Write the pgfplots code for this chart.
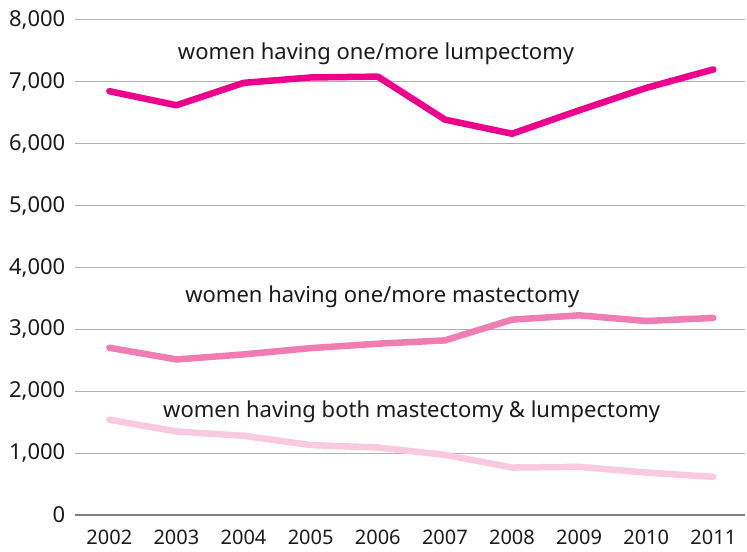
\documentclass[border=0pt]{standalone}
\usepackage{fontspec}
\setmainfont{Noto Sans}
\usepackage{pgfplots}
\pgfplotsset{compat=1.18}
\usetikzlibrary{calc}
\definecolor{lump}{HTML}{EC008C}
\definecolor{mast}{HTML}{F07DB1}
\definecolor{both}{HTML}{F9CADF}
\definecolor{gridc}{HTML}{B0B0B0}
\definecolor{zeroc}{HTML}{808080}
\definecolor{txt}{HTML}{1A1A1A}
\begin{document}
\begin{tikzpicture}
\begin{axis}[
  name=ax, scale only axis, width=669.5bp, height=495bp,
  xmin=2001.496, xmax=2011.472, ymin=0, ymax=8000,
  axis line style={draw=none},
  major tick length=0pt,
  ymajorgrids, grid style={gridc, line width=1bp},
  xtick={2002,2003,...,2011},
  ytick={1000,2000,...,8000},
  extra y ticks={0},
  extra y tick style={grid style={zeroc, line width=1.2bp}},
  clip=false,
  /pgf/number format/assume math mode=true,
  xticklabel style={font=\fontsize{20bp}{24bp}\selectfont, text=txt, /pgf/number format/1000 sep={}, anchor=base, inner sep=0pt, yshift=-30bp},
  yticklabel style={font=\fontsize{22bp}{26bp}\selectfont, text=txt, /pgf/number format/1000 sep={,}, anchor=east, inner sep=0pt, xshift=-10bp},
  every axis plot/.append style={line width=6.5bp, line join=round, line cap=round},
]
\addplot[lump] coordinates {(2002,6849) (2003,6622) (2004,6984) (2005,7071) (2006,7085) (2007,6390) (2008,6162) (2009,6540) (2010,6903) (2011,7201)};
\addplot[mast] coordinates {(2002,2703) (2003,2514) (2004,2595) (2005,2697) (2006,2768) (2007,2822) (2008,3157) (2009,3227) (2010,3135) (2011,3185)};
\addplot[both] coordinates {(2002,1540) (2003,1350) (2004,1280) (2005,1130) (2006,1091) (2007,972) (2008,767) (2009,778) (2010,686) (2011,616)};
\node[font=\fontsize{22bp}{26bp}\selectfont, text=txt, anchor=base west, inner sep=0pt] at (axis cs:2003.02,7355) {women having one/more lumpectomy};
\node[font=\fontsize{22bp}{26bp}\selectfont, text=txt, anchor=base west, inner sep=0pt] at (axis cs:2003.13,3442) {women having one/more mastectomy};
\node[font=\fontsize{22bp}{26bp}\selectfont, text=txt, anchor=base west, inner sep=0pt] at (axis cs:2002.80,1574) {women having both mastectomy \& lumpectomy};
\end{axis}
\pgfresetboundingbox
\path[use as bounding box] ($(ax.south west)+(-75.5bp,-37bp)$) rectangle ($(ax.north east)+(2bp,20bp)$);
\end{tikzpicture}
\end{document}
